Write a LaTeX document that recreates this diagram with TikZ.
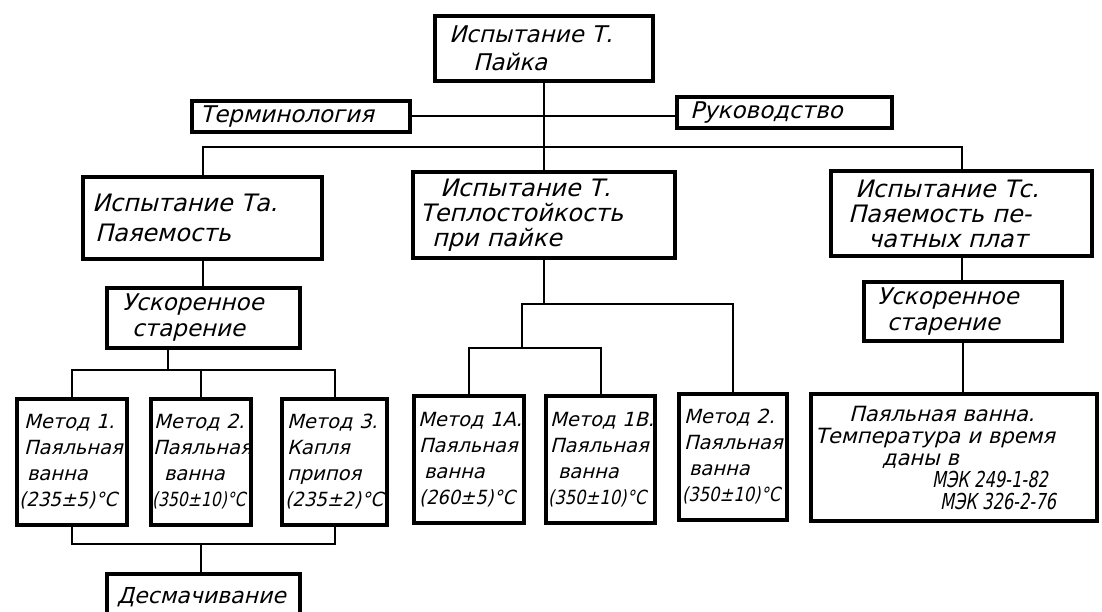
\documentclass[tikz,border=0pt]{standalone}
\usepackage{graphicx}
\usepackage{fontspec}
\setmainfont{DejaVu Sans}[FakeSlant=0.25]
\newcommand{\squeeze}[2][0.84]{\scalebox{#1}[1]{#2}}
\usetikzlibrary{positioning}

\begin{document}
\begin{tikzpicture}[x=1pt,y=-1pt,
    box/.style={draw,line width=4pt,anchor=north west,inner sep=0pt,align=left,
        font=\fontsize{23}{26}\selectfont},
    method/.style={box,minimum height=126pt,font=\fontsize{19.5}{26}\selectfont},
    link/.style={line width=2pt}]

    % white page
    \path[use as bounding box,fill=white] (0,0) rectangle (1102,612);

    % upper level
    \node[box,text width=218pt,minimum height=65pt,font=\fontsize{23}{28}\selectfont] (top) at (433,14)
        {\hspace*{14pt}Испытание Т.\\\hspace*{38pt}Пайка};
    \node[box,text width=218pt,minimum height=31pt] (term) at (190,99) {\hspace*{8pt}Терминология};
    \node[box,text width=215pt,minimum height=31pt] (guide) at (675,95) {\hspace*{13pt}Руководство};

    % three tests
    \node[box,text width=239pt,minimum height=82pt,font=\fontsize{24}{30}\selectfont] (solder) at (81,175)
        {\hspace*{9pt}Испытание Та.\\\hspace*{12pt}Паяемость};
    \node[box,text width=262pt,minimum height=86pt,font=\fontsize{24}{25}\selectfont] (heat) at (411,170)
        {\hspace*{27pt}Испытание Т.\\\hspace*{7pt}Теплостойкость\\\hspace*{19pt}при пайке};
    \node[box,text width=261pt,minimum height=85pt,font=\fontsize{24}{25}\selectfont] (pcb) at (829,169)
        {\hspace*{24pt}Испытание Тс.\\\hspace*{17pt}Паяемость пе-\\\hspace*{37pt}чатных плат};

    % ageing
    \node[box,text width=193pt,minimum height=60pt] (ageL) at (105,286)
        {\hspace*{15pt}Ускоренное\\\hspace*{25pt}старение};
    \node[box,text width=198pt,minimum height=59pt] (ageR) at (862,280)
        {\hspace*{13pt}Ускоренное\\\hspace*{23pt}старение};

    % methods
    \node[method,text width=110pt] (mone) at (15,397)
        {\hspace*{7pt}Метод~1.\\\hspace*{7pt}Паяльная\\\hspace*{10pt}ванна\\\hspace*{2pt}\squeeze[0.94]{(235±5)°C}};
    \node[method,text width=100pt] (mtwo) at (149,397)
        {\hspace*{3pt}Метод~2.\\\hspace*{2pt}Паяльная\\\hspace*{13pt}ванна\\\hspace*{1pt}\squeeze[0.8]{(350±10)°C}};
    \node[method,text width=105pt] (mthree) at (280,397)
        {\hspace*{5pt}Метод~3.\\\hspace*{5pt}Капля\\\hspace*{5pt}припоя\\\hspace*{3pt}\squeeze[0.94]{(235±2)°C}};
    \node[method,text width=110pt,minimum height=127pt] (hone) at (412,394)
        {\hspace*{4pt}Метод~1А.\\\hspace*{5pt}Паяльная\\\hspace*{10pt}ванна\\\hspace*{5pt}\squeeze[0.92]{(260±5)°C}};
    \node[method,text width=109pt,minimum height=127pt] (honb) at (544,394)
        {\hspace*{4pt}Метод~1В.\\\hspace*{4pt}Паяльная\\\hspace*{12pt}ванна\\\hspace*{2pt}\squeeze[0.84]{(350±10)°C}};
    \node[method,text width=108pt] (htwo) at (677,392)
        {\hspace*{5pt}Метод~2.\\\hspace*{5pt}Паяльная\\\hspace*{10pt}ванна\\\hspace*{3pt}\squeeze[0.84]{(350±10)°C}};
    \node[box,text width=286pt,minimum height=127pt,font=\fontsize{21}{22}\selectfont] (bath) at (809,392)
        {\hspace*{38pt}Паяльная ванна.\\\hspace*{4pt}Температура и время\\\hspace*{71pt}даны в\\
         \hspace*{121pt}\squeeze[0.74]{\fontsize{22}{22}\selectfont МЭК 249-1-82}\\
         \hspace*{129pt}\squeeze[0.74]{\fontsize{22}{22}\selectfont МЭК 326-2-76}};

    \node[box,text width=193pt,minimum height=46pt,font=\fontsize{22}{26}\selectfont] (dewet) at (105,572)
        {\hspace*{10pt}Десмачивание};

    % junctions
    \coordinate (bus) at (542,147);
    \coordinate (lbus) at (168,370);
    \coordinate (dbus) at (201,544);

    % connectors
    \draw[link] (top.south) -- (heat.north);
    \draw[link] (term.east) -- (term.east -| guide.west);
    \draw[link] (solder.north) |- (bus) -| (pcb.north);
    \draw[link] (solder.south) -- (solder.south |- ageL.north);
    \draw[link] (pcb.south) -- (pcb.south |- ageR.north);
    \draw[link] (ageR.south) -- (ageR.south |- bath.north);

    \draw[link] (ageL.south -| lbus) -- (lbus);
    \draw[link] (mone.north) |- (lbus) -| (mthree.north);
    \draw[link] (mtwo.north) -- (mtwo.north |- lbus);
    \draw[link] (mone.south) |- (dbus) -| (mthree.south);
    \draw[link] (dbus) -- (dbus |- dewet.north);

    \draw[link] (heat.south) -- ++(0,44) coordinate (hjoin) -- ++(-22,0) coordinate (hsplit) -- ++(0,44) coordinate (hbus);
    \draw[link] (hjoin) -| (htwo.north);
    \draw[link] (hone.north) |- (hbus) -| (honb.north);

\end{tikzpicture}
\end{document}
